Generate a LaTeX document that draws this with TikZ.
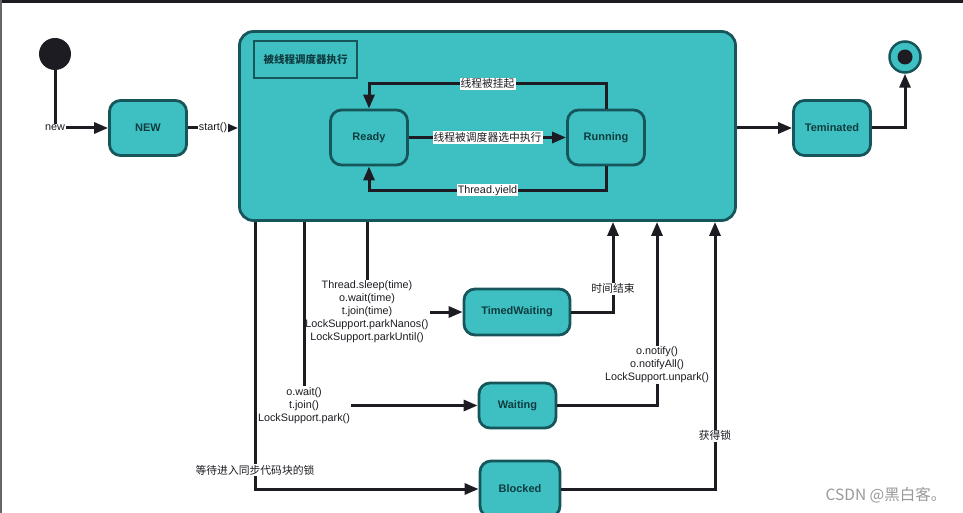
\documentclass[tikz,border=0pt]{standalone}
\usepackage{fontspec}
\setmainfont{Liberation Sans}
\newfontfamily\cjk{Noto Sans CJK SC}
\usetikzlibrary{arrows.meta}

\definecolor{tealfill}{RGB}{62,192,195}
\definecolor{tealline}{RGB}{22,86,90}
\definecolor{lineblack}{RGB}{28,28,34}

\tikzset{
  statebox/.style={draw=tealline, fill=tealfill, line width=2.8pt, rounded corners=11pt,
    minimum width=77pt, minimum height=55pt, text=tealline!70!black,
    font=\fontsize{11}{13}\selectfont\bfseries},
  trans/.style={draw=lineblack, line width=3pt, -{Triangle[length=14pt,width=11pt]}},
  lbl/.style={fill=white, inner sep=1pt, align=center, text=lineblack,
    font=\fontsize{10.8}{13}\selectfont}
}

\begin{document}
\begin{tikzpicture}[x=1pt,y=-1pt]
\useasboundingbox (0,0) rectangle (963,513);
\fill[lineblack] (0,0) rectangle (963,3);
\fill[black!60] (0,0) rectangle (2,513);

\node[circle, fill=lineblack, minimum size=32pt, inner sep=0pt] (init) at (55,54) {};
\node[statebox] (new) at (148,128) {NEW};

% the scheduler region
\node[statebox, rounded corners=14pt, minimum width=496pt, minimum height=189pt] (sched) at (487.5,126) {};
\node[draw=tealline, fill=tealfill, line width=2.8pt, minimum width=103pt, minimum height=37pt,
  text=tealline!70!black, font=\fontsize{10.5}{12}\selectfont\bfseries] (title) at (305.5,59.5) {\cjk 被线程调度器执行};
\node[statebox] (ready) at (369,137.5) {Ready};
\node[statebox] (running) at (606,137.5) {Running};

\node[statebox] (term) at (832,128) {Teminated};
\node[circle, draw=tealline, fill=tealfill, line width=2.5pt, minimum size=31pt, inner sep=0pt] (final) at (905,57) {};
\node[circle, fill=lineblack, minimum size=15pt, inner sep=0pt] (finaldot) at (final) {};

\node[statebox, minimum width=106pt, minimum height=46pt] (timed) at (517,312) {TimedWaiting};
\node[statebox, minimum height=45pt] (waiting) at (517.5,405.5) {Waiting};
\node[statebox, minimum width=80pt, minimum height=56pt] (blocked) at (520,489) {Blocked};

\coordinate (sleepc) at (367,312);
\coordinate (waitc) at (304,405.5);
\coordinate (blockc) at (255,489);
\coordinate (timeupc) at (613,0);
\coordinate (notifyc) at (657,0);
\coordinate (lockc) at (715,0);

\draw[trans] (init.south) |- node[lbl]{new} (new.west);
\draw[trans] (new.east) -- node[lbl]{start()} (sched.west |- new.east);

\draw[trans] (running.north) -- ++(0,-25) -| node[lbl, pos=0.25]{\cjk 线程被挂起} (ready.north);
\draw[trans] (ready.east) -- node[lbl]{\cjk 线程被调度器选中执行} (running.west);
\draw[trans] (running.south) -- ++(0,24) -| node[lbl, pos=0.25]{Thread.yield} (ready.south);

\draw[trans] (sched.east |- term.west) -- (term.west);
\draw[trans] (term.east) -| (final.south);

\draw[trans] (sched.south -| sleepc) |- node[lbl]{Thread.sleep(time)\\o.wait(time)\\t.join(time)\\LockSupport.parkNanos()\\LockSupport.parkUntil()} (timed.west);
\draw[trans] (sched.south -| waitc) |- node[lbl]{o.wait()\\t.join()\\LockSupport.park()} (waiting.west);
\draw[trans] (sched.south -| blockc) |- node[lbl, pos=0.465]{\cjk 等待进入同步代码块的锁} (blocked.west);

\draw[trans] (timed.east) -| node[lbl, pos=0.63]{\cjk 时间结束} (sched.south -| timeupc);
\draw[trans] (waiting.east) -| node[lbl, pos=0.61]{o.notify()\\o.notifyAll()\\LockSupport.unpark()} (sched.south -| notifyc);
\draw[trans] (blocked.east) -| node[lbl, pos=0.6]{\cjk 获得锁} (sched.south -| lockc);

\node[text=black!40, font=\cjk\fontsize{15.5}{17}\selectfont] (mark) at (886,495) {CSDN @黑白客。};
\end{tikzpicture}
\end{document}
